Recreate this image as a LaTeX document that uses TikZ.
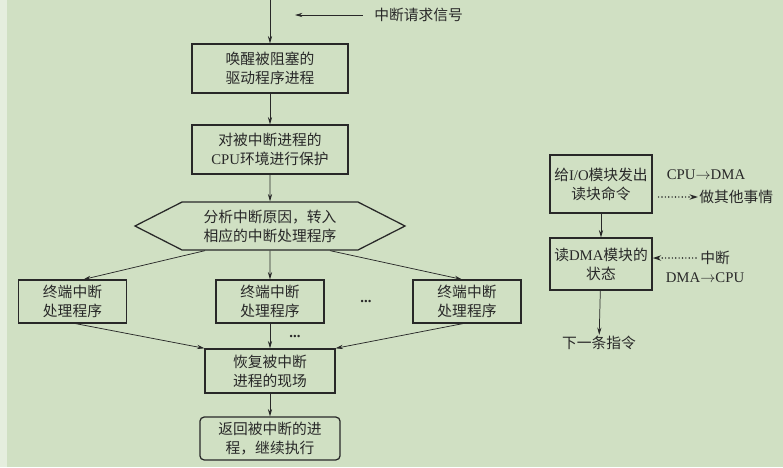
\documentclass[tikz,border=0pt]{standalone}
\usepackage{fontspec}
\setmainfont{Noto Sans CJK SC}
\newfontfamily\latin{Liberation Serif}
\usepackage{tikz}
\usetikzlibrary{shapes,arrows.meta,positioning,calc}
\definecolor{bgcol}{RGB}{208,224,195}
\definecolor{edge}{RGB}{40,40,40}
\definecolor{ink}{RGB}{40,40,40}

\begin{document}
\begin{tikzpicture}[x=0.03333cm, y=-0.03333cm,
        every node/.style={font=\fontsize{14}{18}\selectfont, text=ink},
        box/.style={rectangle, draw=edge, line width=1.2pt, align=center, inner sep=2pt},
        hexbox/.style={signal, signal to=west and east, signal pointer angle=54, draw=edge, line width=1.2pt, align=center, minimum width=9cm, minimum height=1.6cm},
        endbox/.style={box, rounded corners=4pt},
        lbl/.style={inner sep=1pt},
        arrow/.style={-{Stealth[length=7pt,width=4pt]}, line width=0.7pt, draw=edge},
        dotarrow/.style={arrow, line width=1.5pt, line cap=round, dash pattern=on 0pt off 3.2pt, -{Stealth[length=8pt,width=5pt]}}
    ]

    % Background
    \fill[bgcol] (0,0) rectangle (783,467);
    \fill[bgcol!55!white] (0,0) rectangle (7,467);
    \useasboundingbox (0,0) rectangle (783,467);

    % Interrupt request
    \coordinate (in) at (270,0);
    \coordinate (irqend) at (295,15);
    \node[lbl, anchor=west] (irq) at (373,15) {中断请求信号};

    % Main flow
    \node[box, minimum width=5.2cm, minimum height=1.63cm] (wake) at (270,68.5) {唤醒被阻塞的\\驱动程序进程};
    \node[box, minimum width=5.2cm, minimum height=1.63cm] (save) at (270,149.5) {对被中断进程的\\{\latin CPU}环境进行保护};
    \node[hexbox] (cause) at (270,226) {分析中断原因，转入\\相应的中断处理程序};

    % Handlers
    \node[box, minimum width=3.6cm, minimum height=1.43cm] (h1) at (72.5,301.5) {终端中断\\处理程序};
    \node[box, minimum width=3.6cm, minimum height=1.43cm] (h2) at (270,301.5) {终端中断\\处理程序};
    \node[box, minimum width=3.6cm, minimum height=1.43cm] (h3) at (467,301.5) {终端中断\\处理程序};
    \node[lbl] (dotsa) at (366,302) {\latin\bfseries ...};
    \node[lbl] (dotsb) at (295,337) {\latin\bfseries ...};

    \node[box, minimum width=4.33cm, minimum height=1.47cm] (restore) at (270,371) {恢复被中断\\进程的现场};
    \node[endbox, minimum width=4.67cm, minimum height=1.43cm] (back) at (270,438.5) {返回被中断的进\\程，继续执行};

    \draw[arrow] (in) -- (wake);
    \draw[arrow, shorten <=3.5mm] (irq.west) -- (irqend);
    \draw[arrow] (wake) -- (save);
    \draw[arrow] (save) -- (cause);
    \draw[arrow] ($(cause.south)+(-65,0)$) -- ($(h1.north)+(11,0)$);
    \draw[arrow] (cause) -- (h2);
    \draw[arrow] ($(cause.south)+(60,0)$) -- ($(h3.north)+(-5,0)$);
    \draw[arrow] ($(h1.south)+(3,0)$) -- (restore.north west);
    \draw[arrow] (h2) -- (restore);
    \draw[arrow] ($(h3.south)+(-4,0)$) -- (restore.north east);
    \draw[arrow] (restore) -- (back);

    % DMA side
    \node[box, minimum width=3.4cm, minimum height=1.93cm] (cmd) at (601,184) {给{\latin I/O}模块发出\\读块命令};
    \node[box, minimum width=3.4cm, minimum height=1.73cm] (stat) at (601,264) {读{\latin DMA}模块的\\状态};
    \node[lbl] (next) at (599,343) {下一条指令};
    \node[lbl] (c2d) at (706,175) {{\latin CPU}$\rightarrow${\latin DMA}};
    \node[lbl, anchor=west] (other) at (698,197) {做其他事情};
    \node[lbl, anchor=west] (intr) at (699,258) {中断};
    \node[lbl] (d2c) at (705,278) {{\latin DMA}$\rightarrow${\latin CPU}};

    \draw[arrow] (cmd) -- (stat);
    \draw[arrow] (stat) -- (next);
    \draw[dotarrow, shorten <=2mm] (cmd.east |- other) -- (other.west);
    \draw[dotarrow, shorten <=1mm] (intr.west) -- (stat.east |- intr);

\end{tikzpicture}
\end{document}
